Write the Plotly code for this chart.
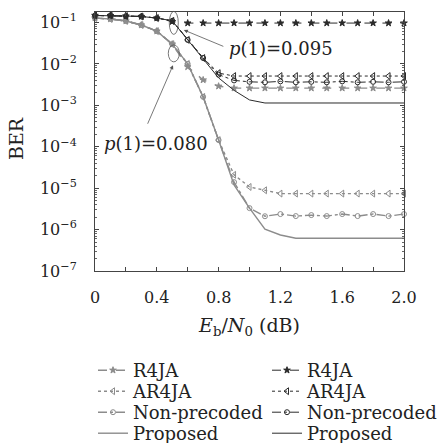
import math
import plotly.graph_objects as go

# Eb/N0 grid (dB)
snr = [0.0, 0.1, 0.2, 0.3, 0.4, 0.5, 0.6, 0.7, 0.8, 0.9, 1.0,
       1.1, 1.2, 1.3, 1.4, 1.5, 1.6, 1.7, 1.8, 1.9, 2.0]

# p(1) = 0.095
r4ja_095 = [0.148, 0.148, 0.143, 0.14, 0.128, 0.105, 0.097, 0.097, 0.097, 0.097, 0.097,
            0.097, 0.097, 0.097, 0.097, 0.097, 0.097, 0.097, 0.097, 0.097, 0.097]
ar4ja_095 = [0.148, 0.148, 0.143, 0.14, 0.128, 0.11, 0.038, 0.0139, 0.0060, 0.0051, 0.0051,
             0.0051, 0.0051, 0.0051, 0.0051, 0.0051, 0.0051, 0.0051, 0.0051, 0.0051, 0.0051]
nonpre_095 = [0.148, 0.148, 0.143, 0.14, 0.128, 0.11, 0.038, 0.0139, 0.0055, 0.0040, 0.0037,
              0.0036, 0.0038, 0.0036, 0.0037, 0.0036, 0.0038, 0.0036, 0.0037, 0.0036, 0.0037]
prop_095 = [0.148, 0.148, 0.143, 0.14, 0.128, 0.11, 0.038, 0.0139, 0.0046, 0.0023, 0.00135,
            0.00114, 0.00114, 0.00114, 0.00114, 0.00114, 0.00114, 0.00114, 0.00114, 0.00114, 0.00114]

# p(1) = 0.080
r4ja_080 = [0.128, 0.122, 0.109, 0.087, 0.062, 0.030, 0.0085, 0.0041, 0.0029, 0.0026, 0.0026,
            0.0026, 0.0026, 0.0026, 0.0026, 0.0026, 0.0026, 0.0026, 0.0026, 0.0026, 0.0026]
ar4ja_080 = [0.128, 0.122, 0.109, 0.087, 0.062, 0.030, 0.0100, 0.0016, 1.45e-4, 2.1e-5, 1.07e-5,
             8.9e-6, 7.4e-6, 7.4e-6, 7.4e-6, 7.4e-6, 7.4e-6, 7.4e-6, 7.4e-6, 7.4e-6, 7.4e-6]
nonpre_080 = [0.128, 0.122, 0.109, 0.087, 0.062, 0.030, 0.0100, 0.0016, 1.45e-4, 1.4e-5, 3.3e-6,
              2.1e-6, 2.37e-6, 2.12e-6, 2.24e-6, 2.12e-6, 2.37e-6, 2.12e-6, 2.37e-6, 2.12e-6, 2.37e-6]
prop_080 = [0.128, 0.122, 0.109, 0.087, 0.062, 0.030, 0.0100, 0.0016, 1.45e-4, 1.2e-5, 3.3e-6,
            1.02e-6, 7.4e-7, 6.2e-7, 6.2e-7, 6.2e-7, 6.2e-7, 6.2e-7, 6.2e-7, 6.2e-7, 6.2e-7]

x_ticks = [0.0, 0.2, 0.4, 0.6, 0.8, 1.0, 1.2, 1.4, 1.6, 1.8, 2.0]
x_tick_text = ["0", "", "0.4", "", "0.8", "", "1.2", "", "1.6", "", "2.0"]
y_ticks = [1e-1, 1e-2, 1e-3, 1e-4, 1e-5, 1e-6, 1e-7]
y_tick_text = ["10<sup>−1</sup>", "10<sup>−2</sup>", "10<sup>−3</sup>", "10<sup>−4</sup>",
               "10<sup>−5</sup>", "10<sup>−6</sup>", "10<sup>−7</sup>"]

X_RANGE = [0.0, 2.0]
Y_RANGE = [-7.0, -0.746]

W, H = 438, 443
MARGIN = dict(l=95, r=34, t=12, b=172)

DARK = "#2b2b2b"
GRAY = "#8c8c8c"
FONT = "DejaVu Serif"
TEXT = "#222222"

styles = {
    "R4JA": dict(dash="dash", symbol="star", size=5),
    "AR4JA": dict(dash="dot", symbol="triangle-left-open", size=6),
    "Non-precoded": dict(dash="dashdot", symbol="circle-open", size=5),
    "Proposed": dict(dash="solid", symbol=None, size=0),
}

# (label, values, colour, width, legend column, legend row)
series = [
    ("R4JA", r4ja_080, GRAY, 1.4, 0, 0),
    ("AR4JA", ar4ja_080, GRAY, 1.4, 0, 1),
    ("Non-precoded", nonpre_080, GRAY, 1.4, 0, 2),
    ("Proposed", prop_080, GRAY, 1.4, 0, 3),
    ("R4JA", r4ja_095, DARK, 1.0, 1, 0),
    ("AR4JA", ar4ja_095, DARK, 1.0, 1, 1),
    ("Non-precoded", nonpre_095, DARK, 1.0, 1, 2),
    ("Proposed", prop_095, DARK, 1.0, 1, 3),
]

# legend grid: two columns of four rows below the axis title
LEG_COL_X = [93, 267]
LEG_ROW_TOP = 352
LEG_ROW_STEP = 21

fig = go.Figure()
legends = {}
for i, (name, vals, color, width, col, row) in enumerate(series):
    st = styles[name]
    if st["symbol"] is None:
        mode = "lines"
        marker = None
    else:
        mode = "lines+markers"
        marker = dict(symbol=st["symbol"], size=st["size"], color=color,
                      line=dict(color=color, width=1))
    leg_id = "legend" if i == 0 else f"legend{i + 1}"
    fig.add_trace(go.Scatter(
        x=snr, y=vals, name=name, mode=mode, marker=marker, legend=leg_id,
        line=dict(color=color, width=width, dash=st["dash"]),
        cliponaxis=False,
    ))
    legends[leg_id] = dict(
        orientation="v", xanchor="left", yanchor="top",
        xref="container", yref="container",
        x=LEG_COL_X[col] / W, y=1 - (LEG_ROW_TOP + row * LEG_ROW_STEP) / H,
        font=dict(family=FONT, size=18, color=TEXT),
        bgcolor="rgba(0,0,0,0)", itemwidth=30,
    )


def frac_x(v):
    return (v - X_RANGE[0]) / (X_RANGE[1] - X_RANGE[0])


def frac_y(v):
    return (math.log10(v) - Y_RANGE[0]) / (Y_RANGE[1] - Y_RANGE[0])


# ellipses marking the two curve families
for cx, cy, rx, ry in [(0.51, 0.098, 4.5, 11.5), (0.51, 0.018, 5.5, 8.5)]:
    fig.add_shape(type="circle", xref="paper", yref="paper",
                  xsizemode="pixel", ysizemode="pixel",
                  xanchor=frac_x(cx), yanchor=frac_y(cy),
                  x0=-rx, x1=rx, y0=-ry, y1=ry,
                  line=dict(color="#555555", width=0.8))

# arrows and labels
fig.add_annotation(x=0.575, y=math.log10(0.066), ax=41, ay=17, text="",
                   showarrow=True, arrowhead=2, arrowsize=1, arrowwidth=0.8,
                   arrowcolor="#555555")
fig.add_annotation(x=0.505, y=math.log10(0.0093), ax=-26, ay=60, text="",
                   showarrow=True, arrowhead=2, arrowsize=1, arrowwidth=0.8,
                   arrowcolor="#555555")
fig.add_annotation(x=0.855, y=math.log10(0.0242), text="<i>p</i>(1)=0.095",
                   showarrow=False, xanchor="left", yanchor="middle",
                   font=dict(family=FONT, size=18, color=TEXT))
fig.add_annotation(x=0.395, y=math.log10(1.23e-4), text="<i>p</i>(1)=0.080",
                   showarrow=False, xanchor="center", yanchor="middle",
                   font=dict(family=FONT, size=18, color=TEXT))

# vertical y-axis title
plot_h = H - MARGIN["t"] - MARGIN["b"]
plot_w = W - MARGIN["l"] - MARGIN["r"]
fig.add_annotation(xref="paper", yref="paper",
                   x=(16 - MARGIN["l"]) / plot_w, y=(H - MARGIN["b"] - 139) / plot_h,
                   text="BER", textangle=-90, showarrow=False,
                   xanchor="center", yanchor="middle",
                   font=dict(family=FONT, size=19, color=TEXT))

axis_common = dict(showline=True, linecolor="#444444", linewidth=1, mirror="ticks",
                   ticks="inside", ticklen=4, tickcolor="#444444", showgrid=False,
                   zeroline=False, tickfont=dict(family=FONT, size=16, color=TEXT))

fig.update_xaxes(range=X_RANGE, tickvals=x_ticks, ticktext=x_tick_text,
                 ticklabelstandoff=12,
                 title=dict(text="<i>E</i><sub>b</sub>/<i>N</i><sub>0</sub> (dB)",
                            font=dict(family=FONT, size=19, color=TEXT), standoff=12),
                 **axis_common)
fig.update_yaxes(type="log", range=Y_RANGE, tickvals=y_ticks, ticktext=y_tick_text,
                 ticklabelstandoff=14,
                 minor=dict(ticks="inside", ticklen=2, tickcolor="#666666", dtick="D1"),
                 **axis_common)

fig.update_layout(
    width=W, height=H,
    margin=dict(**MARGIN, autoexpand=False),
    paper_bgcolor="white", plot_bgcolor="white",
    showlegend=True,
    **legends,
)

fig.write_html("out.html")
